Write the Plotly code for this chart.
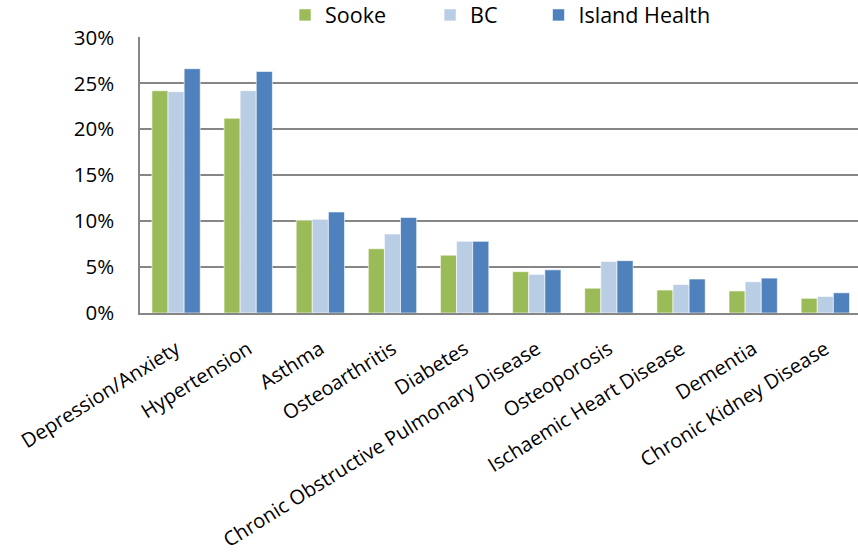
import plotly.graph_objects as go

categories = ["Depression/Anxiety", "Hypertension", "Asthma", "Osteoarthritis", "Diabetes",
              "Chronic Obstructive Pulmonary Disease", "Osteoporosis", "Ischaemic Heart Disease",
              "Dementia", "Chronic Kidney Disease"]
sooke = [0.242, 0.212, 0.101, 0.070, 0.063, 0.045, 0.027, 0.025, 0.024, 0.016]
bc = [0.241, 0.242, 0.102, 0.086, 0.078, 0.042, 0.056, 0.031, 0.034, 0.018]
island = [0.266, 0.263, 0.110, 0.104, 0.078, 0.047, 0.057, 0.037, 0.038, 0.022]
y_ticks = [0, 0.05, 0.10, 0.15, 0.20, 0.25, 0.30]

FONT = "Open Sans"
series = [("Sooke", sooke, "#9BBB59", "legend"),
          ("BC", bc, "#B9CDE5", "legend2"),
          ("Island Health", island, "#4F81BD", "legend3")]

fig = go.Figure()
for name, vals, col, lg in series:
    fig.add_trace(go.Bar(x=categories, y=vals, name=name, legend=lg, showlegend=True,
                         marker=dict(color=col, line=dict(color="rgba(255,255,255,0.6)", width=1))))

leg_common = dict(orientation="h", yanchor="middle", y=1.08, xanchor="left",
                  font=dict(family=FONT, size=21.5, color="black"), bgcolor="rgba(0,0,0,0)")
fig.update_layout(
    width=858, height=560,
    margin=dict(l=140, r=0, t=37, b=247, autoexpand=False),
    paper_bgcolor="white", plot_bgcolor="white",
    showlegend=True,
    barmode="group", bargap=0.33, bargroupgap=0,
    font=dict(family=FONT, size=20, color="black"),
    legend=dict(**leg_common, x=0.202),
    legend2=dict(**leg_common, x=0.404),
    legend3=dict(**leg_common, x=0.555),
    xaxis=dict(tickangle=-32, showline=True, linecolor="#868686", linewidth=1.5,
               range=[-0.5, 9.453], ticks="", ticklabelstandoff=15,
               tickfont=dict(family=FONT, size=20, color="black")),
    yaxis=dict(range=[0, 0.3005], tickvals=y_ticks, tickformat=".0%", showline=True,
               linecolor="#868686", linewidth=1.5, gridcolor="#868686", gridwidth=1.5,
               ticks="", ticklabelstandoff=20, zeroline=False,
               tickfont=dict(family=FONT, size=20.5, color="black")),
)
fig.write_html("out.html", config={"displayModeBar": False},
               post_script="document.body.style.margin='0';")
